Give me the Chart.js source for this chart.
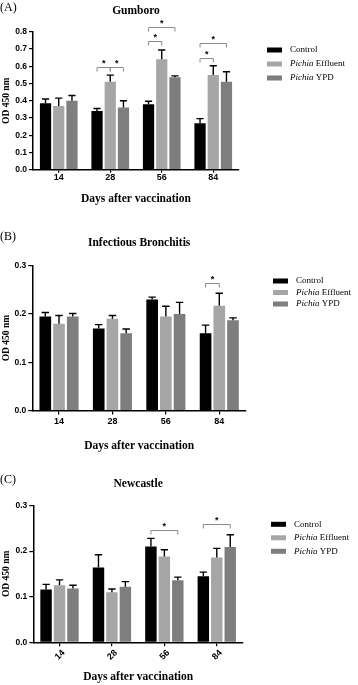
<!DOCTYPE html>
<html>
<head>
<meta charset="utf-8">
<script src="https://cdn.jsdelivr.net/npm/chart.js@4.4.1/dist/chart.umd.min.js"></script>
<style>
  html, body { margin: 0; padding: 0; background: #fff; }
  #wrap { position: relative; width: 358px; height: 685px; background: #fff; }
  #wrap canvas { position: absolute; left: 0; }
</style>
</head>
<body>
<div id="wrap">
  <canvas id="cA" width="358" height="215" style="top:0px"></canvas>
  <canvas id="cB" width="358" height="240" style="top:215px"></canvas>
  <canvas id="cC" width="358" height="230" style="top:455px"></canvas>
</div>
<script>
// --- data ---
const days = ["14", "28", "56", "84"];
const seriesNames = ["Control", "Pichia Effluent", "Pichia YPD"];
const barColors = ["#000000", "#a6a6a6", "#7e7e7e"];

// (A) Gumboro
const gumControl    = [0.385, 0.340, 0.380, 0.270];
const gumEffluent   = [0.370, 0.510, 0.640, 0.549];
const gumYPD        = [0.400, 0.360, 0.536, 0.510];
const gumControlErr  = [0.025, 0.015, 0.017, 0.026];
const gumEffluentErr = [0.045, 0.038, 0.054, 0.054];
const gumYPDErr      = [0.030, 0.040, 0.008, 0.058];
// [day index, from series, to series, bracket level]
const gumSig = [[1, 0, 1, 0.597], [1, 1, 2, 0.597], [2, 0, 2, 0.825], [2, 0, 1, 0.748], [3, 0, 2, 0.736], [3, 0, 1, 0.649]];

// (B) Infectious Bronchitis
const ibControl    = [0.195, 0.170, 0.230, 0.160];
const ibEffluent   = [0.180, 0.190, 0.195, 0.217];
const ibYPD        = [0.195, 0.160, 0.200, 0.187];
const ibControlErr  = [0.008, 0.008, 0.005, 0.017];
const ibEffluentErr = [0.017, 0.007, 0.021, 0.026];
const ibYPDErr      = [0.006, 0.009, 0.024, 0.005];
const ibSig = [[3, 0, 1, 0.265]];

// (C) Newcastle
const ndControl    = [0.116, 0.164, 0.210, 0.145];
const ndEffluent   = [0.125, 0.110, 0.188, 0.186];
const ndYPD        = [0.118, 0.122, 0.136, 0.209];
const ndControlErr  = [0.011, 0.028, 0.018, 0.009];
const ndEffluentErr = [0.012, 0.007, 0.015, 0.020];
const ndYPDErr      = [0.007, 0.011, 0.007, 0.027];
const ndSig = [[2, 0, 2, 0.246], [3, 0, 2, 0.259]];

const SERIF = "'Liberation Serif', 'Times New Roman', serif";
const SANS = "'Liberation Sans', Arial, sans-serif";

// --- plugins ---
const errorBarPlugin = {
  id: "errbars",
  afterDatasetsDraw(chart) {
    const { ctx } = chart;
    const y = chart.scales.y;
    chart.data.datasets.forEach((ds, i) => {
      const meta = chart.getDatasetMeta(i);
      meta.data.forEach((bar, k) => {
        const top = y.getPixelForValue(ds.data[k] + ds.errors[k]);
        const cap = bar.width * 0.32;
        ctx.save();
        ctx.strokeStyle = "#000";
        ctx.lineWidth = 1.4;
        ctx.beginPath();
        ctx.moveTo(bar.x, bar.y);
        ctx.lineTo(bar.x, top);
        ctx.moveTo(bar.x - cap, top);
        ctx.lineTo(bar.x + cap, top);
        ctx.stroke();
        ctx.restore();
      });
    });
  }
};

const sigPlugin = {
  id: "sig",
  afterDraw(chart, args, opts) {
    const { ctx } = chart;
    const y = chart.scales.y;
    (opts.pairs || []).forEach(([g, a, b, lvl]) => {
      const x1 = chart.getDatasetMeta(a).data[g].x;
      const x2 = chart.getDatasetMeta(b).data[g].x;
      const py = Math.round(y.getPixelForValue(lvl)) + 0.5;
      ctx.save();
      ctx.strokeStyle = "#8a8a8a";
      ctx.lineWidth = 1;
      ctx.beginPath();
      ctx.moveTo(x1, py + 4);
      ctx.lineTo(x1, py);
      ctx.lineTo(x2, py);
      ctx.lineTo(x2, py + 4);
      ctx.stroke();
      ctx.fillStyle = "#000";
      ctx.font = "bold 9px " + SANS;
      ctx.textAlign = "center";
      ctx.textBaseline = "middle";
      ctx.fillText("*", (x1 + x2) / 2, py - 4);
      ctx.restore();
    });
  }
};

const legendPlugin = {
  id: "sideLegend",
  afterDraw(chart, args, opts) {
    const { ctx } = chart;
    ctx.save();
    ctx.textBaseline = "middle";
    seriesNames.forEach((name, i) => {
      const yy = opts.y + i * opts.gap;
      ctx.fillStyle = barColors[i];
      ctx.fillRect(opts.x, yy - 2.5, 15, 5);
      ctx.fillStyle = "#000";
      let tx = opts.x + 23;
      if (name.startsWith("Pichia ")) {
        ctx.font = "italic 9px " + SERIF;
        ctx.fillText("Pichia", tx, yy);
        tx += ctx.measureText("Pichia ").width;
        name = name.slice(7);
      }
      ctx.font = "9px " + SERIF;
      ctx.fillText(name, tx, yy);
    });
    ctx.restore();
  }
};

const tagPlugin = {
  id: "tag",
  afterDraw(chart, args, opts) {
    const { ctx } = chart;
    ctx.save();
    ctx.font = "12px " + SERIF;
    ctx.fillStyle = "#000";
    ctx.textBaseline = "middle";
    ctx.fillText(opts.text, 0, opts.y);
    ctx.restore();
  }
};

function makePanel(id, p) {
  const el = document.getElementById(id);
  const H = el.height;
  return new Chart(el, {
    type: "bar",
    data: {
      labels: days,
      datasets: p.series.map((vals, i) => ({
        label: seriesNames[i],
        data: vals,
        errors: p.errors[i],
        backgroundColor: barColors[i],
        borderWidth: 0,
        categoryPercentage: 0.77,
        barPercentage: 0.85
      }))
    },
    options: {
      responsive: false,
      animation: false,
      events: [],
      layout: { padding: { left: 0, right: 358 - p.right, top: 0, bottom: 0 } },
      plugins: {
        legend: { display: false },
        tooltip: { enabled: false },
        title: {
          display: true,
          text: p.title,
          fullSize: false,
          color: "#000",
          font: { family: SERIF, size: 11.5, weight: "bold", lineHeight: 1.2 },
          padding: { top: p.titleY - 6.9, bottom: p.top - (p.titleY - 6.9) - 13.8 }
        },
        errbars: {},
        sig: { pairs: p.sig },
        sideLegend: p.legend,
        tag: { text: p.tag, y: p.tagY }
      },
      scales: {
        x: {
          offset: true,
          grid: { display: true, drawOnChartArea: false, offset: false, tickLength: p.xTick, color: "#000", lineWidth: 1.2 },
          border: { display: true, color: "#000", width: 1.5 },
          ticks: {
            color: "#000",
            font: { family: SANS, size: 9, weight: "bold", lineHeight: 1 },
            padding: p.xPad,
            minRotation: p.rot,
            maxRotation: p.rot,
            labelOffset: p.rot ? 4 : 0
          },
          title: {
            display: true,
            text: "Days after vaccination",
            color: "#000",
            font: { family: SERIF, size: 11.5, weight: "bold", lineHeight: 1.2 },
            padding: { top: 0, bottom: H - p.xTitleY - 6.9 }
          },
          afterFit: (s) => { s.height = H - p.bottom; }
        },
        y: {
          min: 0,
          max: p.max,
          grid: { display: true, drawOnChartArea: false, tickLength: 4, color: "#000", lineWidth: 1.2 },
          border: { display: true, color: "#000", width: 1.5 },
          ticks: {
            stepSize: 0.1,
            color: "#000",
            padding: 2,
            font: { family: SANS, size: 8.5, weight: "bold" },
            callback: (v) => v.toFixed(1)
          },
          title: {
            display: true,
            text: "OD 450 nm",
            color: "#000",
            font: { family: SERIF, size: 9.5, weight: "bold", lineHeight: 1.1 },
            padding: { top: 1, bottom: 0 }
          },
          afterFit: (s) => { s.width = p.left; }
        }
      }
    },
    plugins: [errorBarPlugin, sigPlugin, legendPlugin, tagPlugin]
  });
}

makePanel("cA", {
  title: "Gumboro", tag: "(A)", tagY: 8, titleY: 11,
  series: [gumControl, gumEffluent, gumYPD],
  errors: [gumControlErr, gumEffluentErr, gumYPDErr],
  sig: gumSig, max: 0.8,
  left: 33, right: 239, top: 31.7, bottom: 169.7,
  xTick: 3, xPad: 0, rot: 0, xTitleY: 199,
  legend: { x: 267, y: 50, gap: 14 }
});

makePanel("cB", {
  title: "Infectious Bronchitis", tag: "(B)", tagY: 22, titleY: 28,
  series: [ibControl, ibEffluent, ibYPD],
  errors: [ibControlErr, ibEffluentErr, ibYPDErr],
  sig: ibSig, max: 0.3,
  left: 32.3, right: 246, top: 50.7, bottom: 195.6,
  xTick: 4, xPad: 2, rot: 0, xTitleY: 231,
  legend: { x: 273, y: 66, gap: 11.5 }
});

makePanel("cC", {
  title: "Newcastle", tag: "(C)", tagY: 25, titleY: 29,
  series: [ndControl, ndEffluent, ndYPD],
  errors: [ndControlErr, ndEffluentErr, ndYPDErr],
  sig: ndSig, max: 0.3,
  left: 33.3, right: 243, top: 50.5, bottom: 187.3,
  xTick: 4, xPad: 2, rot: 45, xTitleY: 222.3,
  legend: { x: 271, y: 69.3, gap: 13.5 }
});
</script>
</body>
</html>
